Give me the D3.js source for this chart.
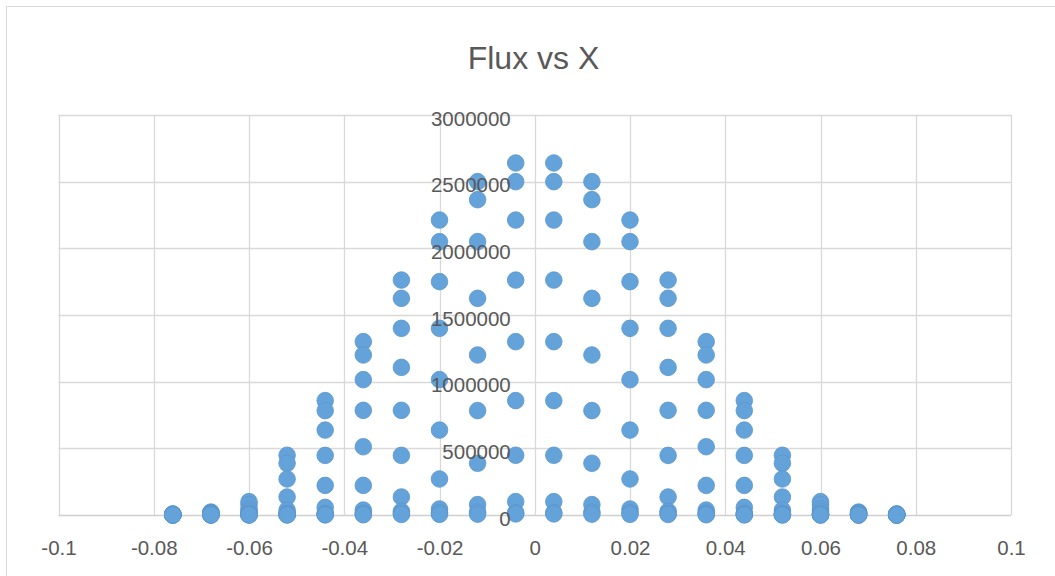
<!DOCTYPE html>
<html>
<head>
<meta charset="utf-8">
<script src="https://cdn.jsdelivr.net/npm/d3@7"></script>
<style>
    body { margin: 0; background: #fff; }
    .chart text { font-family: 'Liberation Sans', 'Open Sans', sans-serif; fill: #595959; }
</style>
</head>
<body>
<div class="chart"></div>
<script>
// Data
const chartTitle = 'Flux vs X';

const xValues = [
    -0.076, -0.068, -0.060, -0.052, -0.044, -0.036, -0.028, -0.020, -0.012, -0.004,
    0.004, 0.012, 0.020, 0.028, 0.036, 0.044, 0.052, 0.060, 0.068, 0.076
];

// one column of flux readings for every x position above
const fluxColumns = [
    [8000, 6000, 5000, 4000, 2000, 1000, 500, 300, 200, 100],
    [17000, 22000, 17000, 12000, 6000, 3000, 1500, 800, 400, 200],
    [100000, 78000, 45000, 28000, 14000, 6000, 3000, 1500, 800, 300],
    [448000, 388000, 270000, 135000, 37000, 12000, 6000, 3000, 1500, 500],
    [858000, 783000, 637000, 447000, 222000, 57000, 12000, 6000, 3000, 1000],
    [1300000, 1200000, 1015000, 785000, 512000, 222000, 37000, 14000, 6000, 2000],
    [1762000, 1625000, 1400000, 1107000, 785000, 447000, 135000, 28000, 12000, 4000],
    [2212000, 2050000, 1750000, 1400000, 1015000, 637000, 270000, 45000, 17000, 5000],
    [2500000, 2365000, 2050000, 1625000, 1200000, 783000, 388000, 78000, 22000, 6000],
    [2640000, 2500000, 2212000, 1762000, 1300000, 858000, 448000, 100000, 17000, 8000],
    [2640000, 2500000, 2212000, 1762000, 1300000, 858000, 448000, 100000, 17000, 8000],
    [2500000, 2365000, 2050000, 1625000, 1200000, 783000, 388000, 78000, 22000, 6000],
    [2212000, 2050000, 1750000, 1400000, 1015000, 637000, 270000, 45000, 17000, 5000],
    [1762000, 1625000, 1400000, 1107000, 785000, 447000, 135000, 28000, 12000, 4000],
    [1300000, 1200000, 1015000, 785000, 512000, 222000, 37000, 14000, 6000, 2000],
    [858000, 783000, 637000, 447000, 222000, 57000, 12000, 6000, 3000, 1000],
    [448000, 388000, 270000, 135000, 37000, 12000, 6000, 3000, 1500, 500],
    [100000, 78000, 45000, 28000, 14000, 6000, 3000, 1500, 800, 300],
    [17000, 22000, 17000, 12000, 6000, 3000, 1500, 800, 400, 200],
    [8000, 6000, 5000, 4000, 2000, 1000, 500, 300, 200, 100]
];

const xTicks = [-0.1, -0.08, -0.06, -0.04, -0.02, 0, 0.02, 0.04, 0.06, 0.08, 0.1];
const yTicks = [0, 500000, 1000000, 1500000, 2000000, 2500000, 3000000];

const dataset = [];
xValues.forEach((x, i) => {
    fluxColumns[i].forEach(flux => dataset.push({ x, flux }));
});

const xAccessor = d => d.x;
const yAccessor = d => d.flux;

// Dimensions
const dimensions = {
    width: 1055,
    height: 576,
    left: 58.5,
    right: 1011,
    top: 115,
    bottom: 515
};

// Draw SVG
const svg = d3.select('.chart')
    .append('svg')
    .attr('width', dimensions.width)
    .attr('height', dimensions.height);

// chart area border
svg.append('rect')
    .attr('x', 6.5)
    .attr('y', 6.5)
    .attr('width', 1100)
    .attr('height', 600)
    .attr('fill', '#fff')
    .attr('stroke', '#d9d9d9');

// Scales
const xScale = d3.scaleLinear()
    .domain([-0.1, 0.1])
    .range([dimensions.left, dimensions.right]);

const yScale = d3.scaleLinear()
    .domain([0, 3000000])
    .range([dimensions.bottom, dimensions.top]);

// Gridlines
const grid = svg.append('g');
grid.selectAll('.v-grid')
    .data(xTicks)
    .join('line')
    .attr('class', 'v-grid')
    .attr('x1', d => Math.round(xScale(d)) + 0.5)
    .attr('x2', d => Math.round(xScale(d)) + 0.5)
    .attr('y1', yScale(3000000))
    .attr('y2', yScale(0))
    .attr('stroke', '#d9d9d9')
    .attr('stroke-width', 1.3);

grid.selectAll('.h-grid')
    .data(yTicks)
    .join('line')
    .attr('class', 'h-grid')
    .attr('x1', xScale(-0.1))
    .attr('x2', xScale(0.1))
    .attr('y1', d => Math.round(yScale(d)) + 0.5)
    .attr('y2', d => Math.round(yScale(d)) + 0.5)
    .attr('stroke', d => d === 0 ? '#cfcfcf' : '#d9d9d9')
    .attr('stroke-width', 1.3);

// Points
svg.append('g')
    .selectAll('circle')
    .data(dataset)
    .join('circle')
    .attr('cx', d => xScale(xAccessor(d)))
    .attr('cy', d => yScale(yAccessor(d)))
    .attr('r', 8.3)
    .attr('fill', '#64a3da')
    .attr('stroke', '#5b96cc')
    .attr('stroke-width', 0.8);

// Axis
const fmtX = d => String(Math.round(d * 100) / 100);

const xAxisGroup = svg.append('g')
    .attr('transform', `translate(0, ${dimensions.bottom})`);
const xAxis = d3.axisBottom(xScale)
    .tickValues(xTicks)
    .tickFormat(fmtX)
    .tickSize(0)
    .tickPadding(25);
xAxisGroup.call(xAxis);

const yAxisGroup = svg.append('g')
    .attr('transform', `translate(${xScale(0)}, 0)`);
const yAxis = d3.axisLeft(yScale)
    .tickValues(yTicks)
    .tickFormat(d => String(d))
    .tickSize(0)
    .tickPadding(24);
yAxisGroup.call(yAxis);
yAxisGroup.selectAll('text').attr('dy', '0.5em');

svg.selectAll('.domain').remove();
svg.selectAll('.tick text')
    .attr('font-size', 20.5)
    .attr('font-family', null);

// Title
svg.append('text')
    .attr('x', 533.5)
    .attr('y', 69)
    .attr('text-anchor', 'middle')
    .attr('font-size', 32)
    .text(chartTitle);
</script>
</body>
</html>
